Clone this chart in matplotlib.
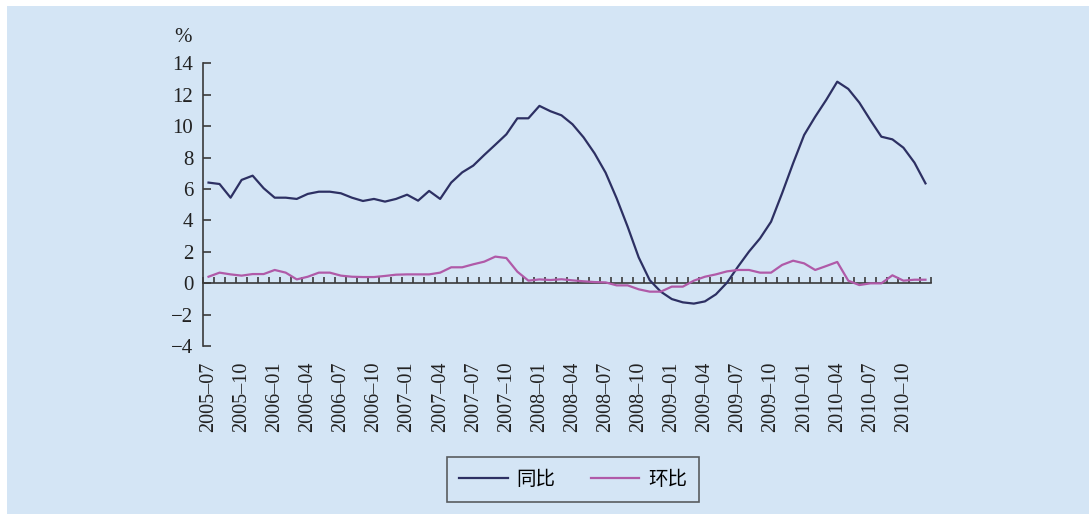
import numpy as np
import matplotlib.pyplot as plt
from matplotlib.patches import Rectangle

# monthly, 2005-07 .. 2010-12
months = [f"{2005 + (6 + k) // 12}–{(6 + k) % 12 + 1:02d}" for k in range(66)]

yoy = [6.41, 6.32, 5.45, 6.58, 6.85, 6.05, 5.45, 5.45, 5.37, 5.69,
       5.83, 5.83, 5.73, 5.45, 5.24, 5.37, 5.20, 5.37, 5.64, 5.26,
       5.88, 5.37, 6.41, 7.06, 7.49, 8.17, 8.82, 9.48, 10.50, 10.50,
       11.29, 10.95, 10.69, 10.12, 9.29, 8.27, 7.04, 5.41, 3.60, 1.65,
       0.20, -0.53, -1.00, -1.21, -1.29, -1.15, -0.70, 0.04, 1.06, 2.02,
       2.86, 3.92, 5.73, 7.64, 9.44, 10.60, 11.67, 12.83, 12.37, 11.50,
       10.39, 9.33, 9.16, 8.63, 7.68, 6.36]

mom = [0.42, 0.68, 0.57, 0.49, 0.59, 0.59, 0.85, 0.68, 0.25, 0.42,
       0.68, 0.68, 0.49, 0.42, 0.40, 0.40, 0.47, 0.55, 0.57, 0.57,
       0.57, 0.68, 1.02, 1.02, 1.21, 1.38, 1.70, 1.61, 0.74, 0.17,
       0.25, 0.21, 0.26, 0.19, 0.13, 0.08, 0.06, -0.13, -0.13, -0.38,
       -0.53, -0.53, -0.21, -0.21, 0.17, 0.42, 0.57, 0.76, 0.85, 0.85,
       0.68, 0.68, 1.17, 1.44, 1.27, 0.85, 1.10, 1.36, 0.17, -0.11,
       0.00, 0.00, 0.51, 0.17, 0.23, 0.23]

bg = "#d4e5f5"
axis_col = "#3a3a3a"
W, H = 1089, 515

plt.rcParams["font.family"] = ["Liberation Serif", "Noto Sans CJK SC", "DejaVu Sans"]
plt.rcParams["font.size"] = 14

fig = plt.figure(figsize=(W / 100, H / 100), dpi=100, facecolor="white")
fig.patches.append(Rectangle((7 / W, 1 / H), 1 - 7 / W, (H - 7) / H,
                             transform=fig.transFigure, facecolor=bg,
                             edgecolor="none", zorder=-10))

ax = fig.add_axes([203 / W, (H - 346.2) / H, 728 / W, (346.2 - 63.3) / H])
ax.set_facecolor("none")

x = np.arange(len(months))
ax.plot(x, yoy, color="#2d3063", lw=1.6, label="同比", zorder=3)
ax.plot(x, mom, color="#b05aa8", lw=1.6, label="环比", zorder=3)

ax.set_xlim(-0.5, len(months) - 0.5)
ax.set_ylim(-4, 14)
ax.set_yticks(np.arange(-4, 15, 2))

for s in ["top", "right"]:
    ax.spines[s].set_visible(False)
ax.spines["left"].set_color(axis_col)
ax.spines["left"].set_linewidth(1.2)
ax.spines["bottom"].set_position(("data", 0))
ax.spines["bottom"].set_color(axis_col)
ax.spines["bottom"].set_linewidth(1.2)

ax.set_xticks(np.arange(-0.5, len(months), 1))
ax.tick_params(axis="x", direction="in", length=4, width=1.2, color=axis_col,
               labelbottom=False)
ax.tick_params(axis="y", direction="in", length=6, width=1.2, color=axis_col,
               pad=7, labelsize=15, labelcolor="#222222")

sec = ax.secondary_xaxis(0)
sec.set_xticks(x[::3], [months[i] for i in x[::3]], rotation=90)
sec.tick_params(length=0, pad=11, labelsize=14.5, labelcolor="#222222")
sec.spines["bottom"].set_visible(False)

fig.text(183 / W, 1 - 37 / H, "%", ha="center", va="center", fontsize=15,
         color="#222222")

leg = fig.legend(loc="center", bbox_to_anchor=(573 / W, 1 - 479.5 / H), ncol=2,
                 frameon=True, fancybox=False, facecolor=bg, edgecolor=axis_col,
                 handlelength=2.5, handletextpad=0.45, columnspacing=1.8,
                 borderpad=0.6, borderaxespad=0,
                 prop={"family": ["Noto Sans CJK SC"], "size": 14})
leg.get_frame().set_linewidth(1.2)

fig.savefig("out.png", dpi=100, facecolor="white")
